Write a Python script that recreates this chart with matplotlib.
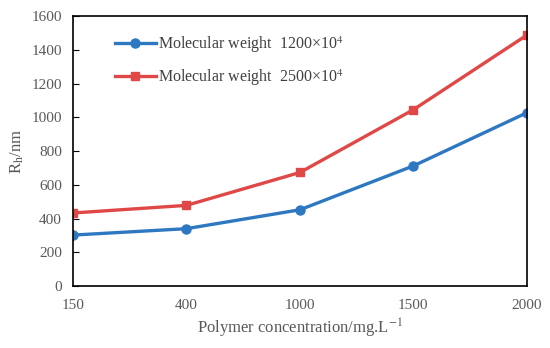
import matplotlib
matplotlib.use("Agg")
import matplotlib.pyplot as plt

concentrations = ["150", "400", "1000", "1500", "2000"]
rh_1200 = [302, 340, 452, 712, 1027]
rh_2500 = [433, 478, 673, 1045, 1487]

plt.rcParams["font.family"] = ["Liberation Serif", "DejaVu Serif"]
plt.rcParams["mathtext.fontset"] = "stix"

fig = plt.figure(figsize=(5.5, 3.48), dpi=100)
ax = fig.add_axes([0.1327, 0.178, 0.8253, 0.776])

x = range(len(concentrations))
ax.plot(x, rh_1200, color="#2e78c2", lw=2.4, marker="o", ms=6.5,
        label="Molecular weight  1200×10$^4$")
ax.plot(x, rh_2500, color="#e04848", lw=2.4, marker="s", ms=6,
        label="Molecular weight  2500×10$^4$")

ax.set_xlim(0, len(concentrations) - 1)
ax.set_ylim(0, 1600)
ax.set_yticks(range(0, 1601, 200))
ax.set_xticks(list(x))
ax.set_xticklabels(concentrations)

ax.tick_params(axis="y", direction="in", length=4, labelsize=11, labelcolor="#595959", pad=8)
ax.tick_params(axis="x", length=0, labelsize=11, labelcolor="#595959", pad=9)
for s in ax.spines.values():
    s.set_linewidth(1.2)

ax.set_xlabel("Polymer concentration/mg.L$^{\\mathrm{-1}}$", fontsize=12, color="#595959", labelpad=4)
ax.set_ylabel("R$_{\\mathrm{h}}$/nm", fontsize=12, color="#595959", labelpad=4)

leg = ax.legend(loc="upper left", bbox_to_anchor=(0.06, 0.985), frameon=False,
                fontsize=11.5, handlelength=2.6, handletextpad=0.1, labelspacing=0.75)
for t in leg.get_texts():
    t.set_color("#404040")

fig.savefig("out.png", dpi=100)
